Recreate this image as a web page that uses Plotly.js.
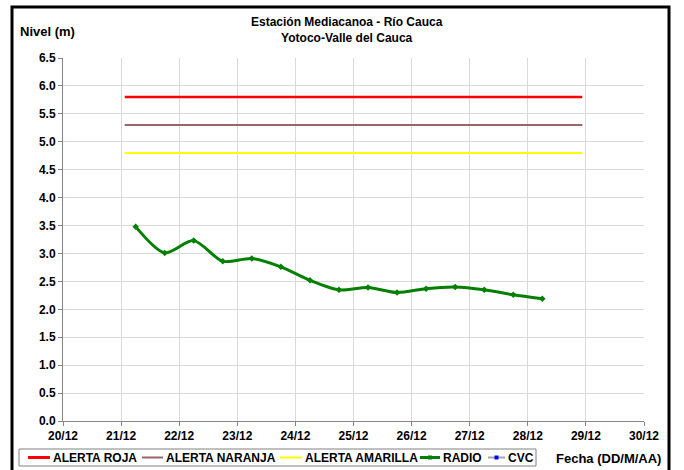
<!DOCTYPE html>
<html>
<head>
<meta charset="utf-8">
<script src="https://cdn.plot.ly/plotly-3.0.1.min.js"></script>
<style>
html,body{margin:0;padding:0;background:#fff;}
#chart{width:684px;height:470px;}
</style>
</head>
<body>
<div id="chart"></div>
<script>
// ---- data ----
var alertDates = ["2011-12-21 01:30", "2011-12-28 22:30"];
var alertaRoja = [5.8, 5.8];
var alertaNaranja = [5.3, 5.3];
var alertaAmarilla = [4.8, 4.8];

var radioDates = [
  "2011-12-21 06:00", "2011-12-21 18:00",
  "2011-12-22 06:00", "2011-12-22 18:00",
  "2011-12-23 06:00", "2011-12-23 18:00",
  "2011-12-24 06:00", "2011-12-24 18:00",
  "2011-12-25 06:00", "2011-12-25 18:00",
  "2011-12-26 06:00", "2011-12-26 18:00",
  "2011-12-27 06:00", "2011-12-27 18:00",
  "2011-12-28 06:00"
];
var radioValues = [3.48, 3.01, 3.23, 2.86, 2.91, 2.76, 2.52, 2.35, 2.39, 2.30, 2.37, 2.40, 2.35, 2.26, 2.19];

var cvcDates = [];
var cvcValues = [];

var seriesNames = ["ALERTA ROJA", "ALERTA NARANJA", "ALERTA AMARILLA", "RADIO", "CVC"];
var seriesColors = ["#FF0000", "#996666", "#FFFF00", "#008000", "#A6A6A6"];

var xRange = ["2011-12-20", "2011-12-30"];
var yTickVals = [0, 0.5, 1, 1.5, 2, 2.5, 3, 3.5, 4, 4.5, 5, 5.5, 6, 6.5];

var FONT = "Liberation Sans, Arial, sans-serif";

// pixel -> paper helpers (plot area: x 63..644, y 58..421)
var L = 63, R = 644, T = 58, B = 421;
function px(x) { return (x - L) / (R - L); }
function py(y) { return (B - y) / (B - T); }

var traces = [
  {x: alertDates, y: alertaRoja, name: seriesNames[0], mode: "lines",
   line: {color: seriesColors[0], width: 2.5}},
  {x: alertDates, y: alertaNaranja, name: seriesNames[1], mode: "lines",
   line: {color: seriesColors[1], width: 2}},
  {x: alertDates, y: alertaAmarilla, name: seriesNames[2], mode: "lines",
   line: {color: seriesColors[2], width: 2}},
  {x: radioDates, y: radioValues, name: seriesNames[3], mode: "lines+markers",
   line: {color: seriesColors[3], width: 3, shape: "spline", smoothing: 0.8},
   marker: {color: seriesColors[3], size: 5, symbol: "diamond"}},
  {x: cvcDates, y: cvcValues, name: seriesNames[4], mode: "lines+markers",
   line: {color: seriesColors[4], width: 2},
   marker: {color: "#0000FF", size: 4}}
];

// manual legend (matches the reference's compact boxed legend)
var legItems = [
  {x0: 28, x1: 50, tx: 51},
  {x0: 142, x1: 163, tx: 164},
  {x0: 280, x1: 302, tx: 303},
  {x0: 420, x1: 440, tx: 441, mk: "#008000"},
  {x0: 488, x1: 505, tx: 506, mk: "#0000FF"}
];
var legY = 457.5;

var shapes = [
  {type: "rect", xref: "paper", yref: "paper",
   x0: px(12), x1: px(669), y0: py(472), y1: py(7),
   line: {color: "#000", width: 3}, fillcolor: "rgba(0,0,0,0)", layer: "above"},
  {type: "rect", xref: "paper", yref: "paper",
   x0: px(19), x1: px(536), y0: py(466), y1: py(449),
   line: {color: "#808080", width: 1}, fillcolor: "#fff", layer: "above"}
];
var annotations = [
  {text: "Estación Mediacanoa - Río Cauca<br>Yotoco-Valle del Cauca",
   xref: "paper", yref: "paper", x: px(347), y: py(30),
   xanchor: "center", yanchor: "middle", showarrow: false, align: "center",
   font: {family: FONT, size: 12, color: "#000", weight: "bold"}},
  {text: "Nivel (m)", xref: "paper", yref: "paper",
   x: px(18), y: py(31), xanchor: "left", yanchor: "middle",
   showarrow: false, font: {family: FONT, size: 13, color: "#000", weight: "bold"}},
  {text: "Fecha (DD/M/AA)", xref: "paper", yref: "paper",
   x: px(663), y: py(458), xanchor: "right", yanchor: "middle",
   showarrow: false, font: {family: FONT, size: 13, color: "#000", weight: "bold"}}
];
legItems.forEach(function (it, i) {
  shapes.push({type: "line", xref: "paper", yref: "paper",
    x0: px(it.x0), x1: px(it.x1), y0: py(legY), y1: py(legY),
    line: {color: seriesColors[i], width: i === 0 ? 3 : (i === 3 ? 3 : 2)}, layer: "above"});
  if (it.mk) {
    var cx = (it.x0 + it.x1) / 2;
    shapes.push({type: "rect", xref: "paper", yref: "paper",
      x0: px(cx - 2), x1: px(cx + 2), y0: py(legY + 2), y1: py(legY - 2),
      line: {width: 0}, fillcolor: it.mk, layer: "above"});
  }
  annotations.push({text: seriesNames[i], xref: "paper", yref: "paper",
    x: px(it.tx), y: py(legY), xanchor: "left", yanchor: "middle",
    showarrow: false, font: {family: FONT, size: 12, color: "#000", weight: "bold"}});
});

var layout = {
  width: 684, height: 470,
  margin: {l: L, r: 684 - R, t: T, b: 470 - B, autoexpand: false},
  paper_bgcolor: "#fff", plot_bgcolor: "#fff",
  font: {family: FONT, size: 12, color: "#000"},
  showlegend: false,
  xaxis: {
    type: "date", range: xRange, dtick: 86400000, tick0: "2011-12-20",
    tickformat: "%d/%m", showgrid: true, gridcolor: "#D9D9D9", gridwidth: 1,
    showline: true, linecolor: "#868686", linewidth: 1,
    ticks: "outside", ticklen: 4, tickcolor: "#868686",
    tickfont: {family: FONT, size: 12, color: "#000", weight: "bold"},
    zeroline: false, fixedrange: true, automargin: false
  },
  yaxis: {
    range: [0, 6.5], tickvals: yTickVals, tickformat: ".1f",
    showgrid: true, gridcolor: "#D9D9D9", gridwidth: 1,
    showline: true, linecolor: "#868686", linewidth: 1,
    ticks: "outside", ticklen: 4, tickcolor: "#868686",
    tickfont: {family: FONT, size: 12, color: "#000", weight: "bold"},
    zeroline: false, fixedrange: true, automargin: false
  },
  annotations: annotations,
  shapes: shapes
};

Plotly.newPlot("chart", traces, layout, {staticPlot: true});
</script>
</body>
</html>
